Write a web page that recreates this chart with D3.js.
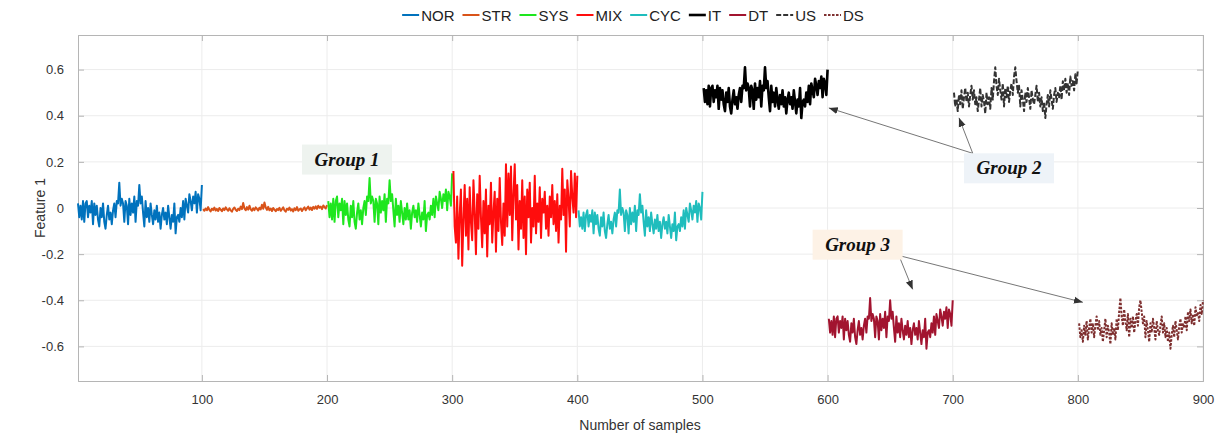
<!DOCTYPE html>
<html>
<head>
<meta charset="utf-8">
<script src="https://d3js.org/d3.v7.min.js"></script>
<style>
  body { margin: 0; background: #fff; }
  svg { display: block; font-family: "Liberation Sans", Arial, sans-serif; }
</style>
</head>
<body>
<svg id="chart" width="1221" height="437"></svg>
<script>
// Data: 100 samples per condition
const NOR = [0.02,-0.04,0.01,-0.05,0.03,-0.06,0.02,0.03,-0.04,0.01,
  -0.02,0.03,-0.07,0.02,-0.03,0.01,-0.05,-0.08,0.00,-0.04,
  0.02,-0.06,-0.09,-0.03,0.01,-0.05,-0.02,-0.07,-0.01,0.02,
  -0.04,0.03,0.02,0.11,0.01,0.04,0.02,-0.06,0.03,0.01,
  -0.07,0.04,-0.03,0.02,-0.02,0.05,-0.06,0.03,0.01,0.10,
  0.02,0.05,-0.02,-0.08,0.03,-0.04,0.00,-0.06,0.02,-0.03,
  -0.07,-0.01,-0.05,0.01,-0.06,-0.02,-0.09,-0.03,0.00,-0.05,
  -0.02,-0.07,0.01,-0.04,-0.09,-0.03,-0.06,0.02,-0.11,-0.04,
  -0.03,-0.06,0.00,-0.04,0.03,-0.05,0.04,0.01,-0.02,0.06,
  0.03,-0.01,0.05,0.02,0.07,-0.02,0.06,0.04,-0.01,0.10];

const STR = [-0.005,-0.012,-0.002,-0.010,0.004,-0.008,-0.015,-0.003,-0.009,0.002,
  -0.011,-0.004,-0.013,0.000,-0.007,-0.014,-0.002,-0.009,0.003,-0.006,
  -0.012,-0.001,-0.010,-0.016,-0.004,0.002,-0.008,-0.013,-0.003,-0.009,
  0.006,-0.005,0.022,-0.002,-0.010,0.004,-0.007,0.010,-0.006,-0.012,
  -0.001,-0.009,0.003,-0.004,-0.011,0.001,-0.006,0.014,-0.003,0.024,
  0.002,-0.008,0.005,-0.010,-0.002,-0.013,0.000,-0.007,-0.014,-0.004,
  -0.009,0.001,-0.012,-0.005,0.003,-0.010,-0.016,-0.003,-0.008,0.002,
  -0.011,-0.005,-0.015,-0.001,-0.009,0.004,-0.012,-0.006,-0.002,-0.013,
  -0.004,0.003,-0.010,-0.001,0.006,-0.007,0.002,-0.009,0.005,-0.003,
  0.007,-0.004,0.010,0.001,0.006,-0.005,0.011,0.004,-0.002,0.012];

const SYS = [0.03,-0.04,0.02,-0.05,0.04,-0.06,0.03,0.05,-0.04,0.02,
  -0.01,0.04,-0.07,0.03,-0.03,0.02,-0.05,-0.08,0.01,-0.04,
  0.03,-0.06,-0.09,-0.02,0.02,-0.05,-0.01,-0.07,0.00,0.03,
  -0.03,0.05,0.03,0.13,0.02,0.05,0.03,-0.06,0.04,0.02,
  -0.07,0.05,-0.02,0.03,-0.01,0.06,-0.06,0.04,0.02,0.12,
  0.03,0.06,-0.01,-0.08,0.04,-0.03,0.01,-0.06,0.03,-0.02,
  -0.07,0.00,-0.05,0.02,-0.05,-0.01,-0.09,-0.02,0.01,-0.04,
  -0.01,-0.06,0.02,-0.03,-0.08,-0.02,-0.05,0.03,-0.10,-0.03,
  -0.02,-0.05,0.01,-0.03,0.04,-0.04,0.05,0.02,-0.01,0.07,
  0.04,0.00,0.06,0.03,0.08,-0.01,0.07,0.05,0.01,0.15];

const MIX = [0.16,-0.08,-0.15,0.05,-0.22,-0.03,0.08,-0.25,-0.05,0.10,
  -0.12,0.04,-0.18,0.09,-0.06,-0.14,0.12,-0.02,-0.20,0.06,
  -0.09,0.14,-0.04,-0.17,0.03,-0.11,0.08,-0.21,0.01,-0.07,
  0.11,-0.15,-0.02,0.07,-0.19,0.04,-0.10,0.13,-0.06,-0.16,
  0.02,-0.12,0.19,-0.08,0.15,-0.03,0.18,-0.14,0.06,0.19,
  -0.05,0.10,-0.18,0.03,-0.09,0.12,-0.13,0.05,-0.20,0.08,
  -0.04,0.11,-0.15,0.00,-0.08,0.14,-0.11,0.02,-0.06,0.09,
  -0.13,0.04,-0.02,0.07,-0.09,0.01,-0.12,0.05,-0.04,0.10,
  -0.07,0.03,-0.10,0.06,-0.15,0.01,-0.05,0.17,-0.03,0.08,
  -0.19,0.12,0.04,-0.08,0.16,0.05,-0.02,0.15,-0.04,0.14];

const CYC = [-0.01,-0.08,-0.04,-0.09,-0.02,-0.10,-0.03,-0.01,-0.08,-0.03,
  -0.06,-0.01,-0.11,-0.02,-0.07,-0.03,-0.09,-0.12,-0.04,-0.08,
  -0.02,-0.10,-0.13,-0.07,-0.03,-0.09,-0.06,-0.11,-0.05,-0.02,
  -0.08,-0.01,-0.02,0.08,-0.03,0.00,-0.02,-0.10,-0.01,-0.03,
  -0.11,0.00,-0.07,-0.02,-0.06,0.01,-0.10,-0.01,-0.03,0.06,
  -0.02,0.01,-0.06,-0.12,-0.01,-0.08,-0.04,-0.10,-0.02,-0.07,
  -0.11,-0.05,-0.09,-0.03,-0.10,-0.06,-0.13,-0.07,-0.04,-0.09,
  -0.06,-0.11,-0.03,-0.08,-0.13,-0.07,-0.10,-0.02,-0.14,-0.08,
  -0.07,-0.10,-0.04,-0.08,-0.01,-0.09,0.00,-0.03,-0.06,0.02,
  -0.01,-0.05,0.01,-0.02,0.03,-0.06,0.02,0.00,-0.05,0.07];

const IT = [0.52,0.46,0.51,0.45,0.53,0.44,0.52,0.53,0.46,0.51,
  0.48,0.53,0.43,0.52,0.47,0.51,0.45,0.42,0.50,0.46,
  0.52,0.44,0.41,0.47,0.51,0.45,0.48,0.43,0.49,0.52,
  0.46,0.53,0.52,0.61,0.51,0.54,0.52,0.44,0.53,0.51,
  0.43,0.54,0.47,0.52,0.48,0.55,0.44,0.53,0.51,0.61,
  0.52,0.55,0.48,0.42,0.53,0.46,0.50,0.44,0.52,0.47,
  0.43,0.49,0.45,0.51,0.44,0.48,0.41,0.47,0.50,0.45,
  0.48,0.43,0.51,0.46,0.41,0.47,0.44,0.52,0.39,0.46,
  0.47,0.44,0.50,0.46,0.53,0.45,0.54,0.51,0.48,0.56,
  0.53,0.49,0.55,0.52,0.57,0.48,0.56,0.54,0.49,0.60];

const DT = [-0.48,-0.54,-0.49,-0.55,-0.47,-0.56,-0.48,-0.47,-0.54,-0.49,
  -0.52,-0.47,-0.57,-0.48,-0.53,-0.49,-0.55,-0.58,-0.50,-0.54,
  -0.48,-0.56,-0.59,-0.53,-0.49,-0.55,-0.52,-0.57,-0.51,-0.48,
  -0.54,-0.47,-0.48,-0.39,-0.49,-0.46,-0.48,-0.56,-0.47,-0.49,
  -0.57,-0.46,-0.53,-0.48,-0.52,-0.45,-0.56,-0.47,-0.49,-0.40,
  -0.48,-0.45,-0.52,-0.58,-0.47,-0.54,-0.50,-0.56,-0.48,-0.53,
  -0.57,-0.51,-0.55,-0.49,-0.56,-0.52,-0.59,-0.53,-0.50,-0.55,
  -0.52,-0.57,-0.49,-0.54,-0.59,-0.53,-0.56,-0.48,-0.61,-0.54,
  -0.53,-0.56,-0.50,-0.54,-0.47,-0.55,-0.46,-0.49,-0.52,-0.44,
  -0.47,-0.51,-0.45,-0.48,-0.43,-0.52,-0.44,-0.46,-0.51,-0.40];

const US = [0.50,0.44,0.47,0.42,0.49,0.45,0.51,0.43,0.48,0.52,
  0.46,0.50,0.44,0.49,0.53,0.47,0.51,0.45,0.48,0.42,
  0.47,0.52,0.44,0.49,0.46,0.41,0.50,0.45,0.48,0.43,
  0.52,0.47,0.55,0.61,0.53,0.49,0.56,0.51,0.47,0.54,
  0.44,0.52,0.48,0.53,0.46,0.51,0.54,0.49,0.57,0.61,
  0.55,0.50,0.53,0.44,0.51,0.47,0.42,0.50,0.46,0.52,
  0.48,0.43,0.51,0.47,0.45,0.49,0.53,0.46,0.50,0.44,
  0.48,0.42,0.46,0.39,0.45,0.49,0.44,0.51,0.47,0.43,
  0.49,0.52,0.46,0.50,0.48,0.53,0.47,0.55,0.51,0.56,
  0.50,0.54,0.49,0.57,0.53,0.55,0.51,0.58,0.54,0.60];

const DS = [-0.50,-0.56,-0.53,-0.58,-0.51,-0.55,-0.49,-0.57,-0.52,-0.48,
  -0.54,-0.50,-0.56,-0.51,-0.47,-0.53,-0.49,-0.55,-0.52,-0.58,
  -0.53,-0.48,-0.56,-0.51,-0.54,-0.59,-0.50,-0.55,-0.52,-0.57,
  -0.48,-0.53,-0.45,-0.39,-0.47,-0.51,-0.44,-0.49,-0.53,-0.46,
  -0.56,-0.48,-0.52,-0.47,-0.54,-0.49,-0.46,-0.51,-0.43,-0.40,
  -0.45,-0.50,-0.47,-0.56,-0.49,-0.53,-0.58,-0.50,-0.54,-0.48,
  -0.52,-0.57,-0.49,-0.53,-0.55,-0.51,-0.47,-0.54,-0.50,-0.56,
  -0.52,-0.58,-0.54,-0.61,-0.55,-0.51,-0.56,-0.49,-0.53,-0.57,
  -0.51,-0.48,-0.54,-0.50,-0.52,-0.47,-0.53,-0.45,-0.49,-0.44,
  -0.50,-0.46,-0.51,-0.43,-0.47,-0.45,-0.49,-0.42,-0.46,-0.40];

const seriesNames = ['NOR', 'STR', 'SYS', 'MIX', 'CYC', 'IT', 'DT', 'US', 'DS'];
const seriesValues = [NOR, STR, SYS, MIX, CYC, IT, DT, US, DS];
const xTicks = [100, 200, 300, 400, 500, 600, 700, 800, 900];
const yTicks = [-0.6, -0.4, -0.2, 0, 0.2, 0.4, 0.6];

// Annotations in data units: label, label centre, arrow start, arrow tips
const groupLabels = ['Group 1', 'Group 2', 'Group 3'];
const groupCenters = [[216, 0.21], [745, 0.172], [624, -0.159]];
const groupFrom = [null, [716, 0.237], [657, -0.206]];
const groupTips = [[], [[601, 0.434], [705, 0.391]], [[668, -0.353], [804, -0.409]]];

// Styles
const styles = {
  NOR: { color: '#0072bd', dash: null },
  STR: { color: '#d95319', dash: null },
  SYS: { color: '#1ee61e', dash: null },
  MIX: { color: '#ff0d0d', dash: null },
  CYC: { color: '#1fbdbd', dash: null },
  IT:  { color: '#000000', dash: null },
  DT:  { color: '#a2142f', dash: null },
  US:  { color: '#333333', dash: '5,2' },
  DS:  { color: '#7e2f2f', dash: '2.5,1.5' }
};
const boxFill = ['#eef3ef', '#eef3f8', '#fdf2e6'];

const svg = d3.select('#chart');
const margin = { top: 35, right: 18, bottom: 56, left: 78 };
const W = 1221, H = 437;

const x = d3.scaleLinear().domain([1, 900]).range([margin.left, W - margin.right]);
const y = d3.scaleLinear().domain([-0.75, 0.75]).range([H - margin.bottom, margin.top]);

svg.append('rect').attr('width', W).attr('height', H).attr('fill', '#fff');

// Grid
const grid = svg.append('g');
grid.selectAll('.gx').data(xTicks).enter().append('line')
  .attr('x1', d => x(d)).attr('x2', d => x(d))
  .attr('y1', y(-0.75)).attr('y2', y(0.75))
  .attr('stroke', '#ececec').attr('stroke-width', 1);
grid.selectAll('.gy').data(yTicks).enter().append('line')
  .attr('x1', x(1)).attr('x2', x(900))
  .attr('y1', d => y(d)).attr('y2', d => y(d))
  .attr('stroke', '#ececec').attr('stroke-width', 1);

// Axes (MATLAB-style inward ticks, box on)
const fmt = d => d === 0 ? '0' : d3.format('.1f')(d).replace('\u2212', '-');
const axisColor = '#b5b5b5';

const xAxis = svg.append('g').attr('transform', `translate(0,${y(-0.75)})`)
  .call(d3.axisBottom(x).tickValues(xTicks).tickSize(-6).tickPadding(14).tickFormat(d3.format('d')));
const yAxis = svg.append('g').attr('transform', `translate(${x(1)},0)`)
  .call(d3.axisLeft(y).tickValues(yTicks).tickSize(-6).tickPadding(14).tickFormat(fmt));
const xTop = svg.append('g').attr('transform', `translate(0,${y(0.75)})`)
  .call(d3.axisTop(x).tickValues(xTicks).tickSize(-6).tickFormat(''));
const yRight = svg.append('g').attr('transform', `translate(${x(900)},0)`)
  .call(d3.axisRight(y).tickValues(yTicks).tickSize(-6).tickFormat(''));

[xAxis, yAxis, xTop, yRight].forEach(g => {
  g.select('.domain').attr('stroke', axisColor);
  g.selectAll('.tick line').attr('stroke', axisColor);
  g.selectAll('.tick text').attr('fill', '#333').attr('font-size', 13)
    .attr('font-family', '"Liberation Sans", Arial, sans-serif');
});

// Axis labels
svg.append('text')
  .attr('x', 640).attr('y', 430)
  .attr('text-anchor', 'middle').attr('font-size', 14).attr('fill', '#333')
  .text('Number of samples');
svg.append('text')
  .attr('transform', `translate(45,${y(0)}) rotate(-90)`)
  .attr('text-anchor', 'middle').attr('font-size', 14).attr('fill', '#333')
  .text('Feature 1');

// Lines
const line = d3.line().x(d => x(d[0])).y(d => y(d[1]));
const lines = svg.append('g');
seriesNames.forEach((name, k) => {
  const pts = seriesValues[k].map((v, i) => [k * 100 + i + 1, v]);
  lines.append('path')
    .datum(pts)
    .attr('d', line)
    .attr('fill', 'none')
    .attr('stroke', styles[name].color)
    .attr('stroke-width', name === 'IT' ? 2.6 : 2)
    .attr('stroke-linejoin', 'round')
    .attr('stroke-dasharray', styles[name].dash);
});

// Arrowhead
svg.append('defs').append('marker')
  .attr('id', 'arrow')
  .attr('viewBox', '0 0 10 10')
  .attr('refX', 10).attr('refY', 5)
  .attr('markerWidth', 9).attr('markerHeight', 9)
  .attr('markerUnits', 'userSpaceOnUse')
  .attr('orient', 'auto')
  .append('path').attr('d', 'M0,1 L10,5 L0,9 z').attr('fill', '#333');

// Annotations
const ann = svg.append('g');
groupLabels.forEach((label, i) => {
  if (groupFrom[i]) {
    groupTips[i].forEach(t => {
      ann.append('line')
        .attr('x1', x(groupFrom[i][0])).attr('y1', y(groupFrom[i][1]))
        .attr('x2', x(t[0])).attr('y2', y(t[1]))
        .attr('stroke', '#666').attr('stroke-width', 0.9)
        .attr('marker-end', 'url(#arrow)');
    });
  }
  const cx = x(groupCenters[i][0]), cy = y(groupCenters[i][1]);
  ann.append('rect')
    .attr('x', cx - 45).attr('y', cy - 15)
    .attr('width', 90).attr('height', 30)
    .attr('fill', boxFill[i]);
  ann.append('text')
    .attr('x', cx).attr('y', cy + 6)
    .attr('text-anchor', 'middle')
    .attr('font-family', '"Liberation Serif", "DejaVu Serif", serif')
    .attr('font-style', 'italic').attr('font-weight', 'bold')
    .attr('font-size', 19).attr('fill', '#111')
    .text(label);
});

// Legend
const legend = svg.append('g');
let lx = 0;
seriesNames.forEach(name => {
  const item = legend.append('g').attr('transform', `translate(${lx},0)`);
  item.append('line')
    .attr('x1', 0).attr('x2', 17).attr('y1', 0).attr('y2', 0)
    .attr('stroke', styles[name].color)
    .attr('stroke-width', name === 'IT' ? 2.6 : 2)
    .attr('stroke-dasharray', styles[name].dash);
  const t = item.append('text')
    .attr('x', 19).attr('y', 5.5)
    .attr('font-size', 15).attr('fill', '#222')
    .text(name);
  lx += 19 + t.node().getComputedTextLength() + 8;
});
legend.attr('transform', `translate(${633 - (lx - 8) / 2},15)`);
</script>
</body>
</html>
